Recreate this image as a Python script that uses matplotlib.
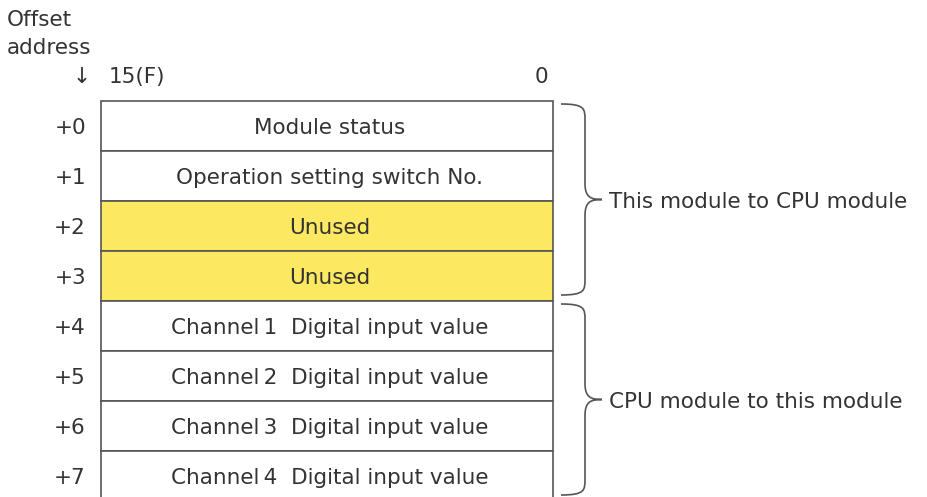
import matplotlib.pyplot as plt
from matplotlib.path import Path
from matplotlib.patches import PathPatch

plt.rcParams['font.family'] = ['DejaVu Sans']

# buffer memory layout
offsets = ['+0', '+1', '+2', '+3', '+4', '+5', '+6', '+7']
names = ['Module status',
         'Operation setting switch No.',
         'Unused',
         'Unused',
         'Channel\u20091  Digital input value',
         'Channel\u20092  Digital input value',
         'Channel\u20093  Digital input value',
         'Channel\u20094  Digital input value']
unused = [False, False, True, True, False, False, False, False]
groups = [('This module to CPU module', 0, 4), ('CPU module to this module', 4, 8)]

TXT = '#333333'
EDGE = '#555555'
YELLOW = '#fce961'
FS = 15.5

LEFT, RIGHT = 101, 553
TOP, ROW_H = 101, 50

fig = plt.figure(figsize=(9.28, 4.97), dpi=100)
ax = fig.add_axes([0, 0, 1, 1])
ax.set_xlim(0, 928)
ax.set_ylim(497, 0)
ax.axis('off')

ys = [TOP + ROW_H * (i + 0.5) for i in range(len(names))]
colors = [YELLOW if u else 'white' for u in unused]
ax.barh(ys, RIGHT - LEFT, left=LEFT, height=ROW_H, color=colors,
        edgecolor=EDGE, linewidth=1.2, zorder=2)

for y, off, name in zip(ys, offsets, names):
    ax.text(86, y + 2, off, ha='right', va='center', fontsize=FS, color=TXT)
    ax.text((LEFT + RIGHT) / 2 + 3, y + 2, name, ha='center', va='center', fontsize=FS, color=TXT, zorder=3)

# header
ax.text(7, 20, 'Offset', ha='left', va='center', fontsize=FS, color=TXT)
ax.text(7, 48, 'address', ha='left', va='center', fontsize=FS, color=TXT)
ax.text(82, 77, '↓', ha='center', va='center', fontsize=FS, color=TXT)
ax.text(109, 77, '15(F)', ha='left', va='center', fontsize=FS, color=TXT)
ax.text(541, 77, '0', ha='center', va='center', fontsize=FS, color=TXT)


def brace(y0, y1, x0=561, xm=585, xt=602, r=16):
    ym = (y0 + y1) / 2
    verts = [(x0, y0),
             (xm, y0), (xm, y0 + r * 0.3), (xm, y0 + r),
             (xm, ym - r),
             (xm, ym - 2), (xm + 6, ym), (xt, ym),
             (xm + 6, ym), (xm, ym + 2), (xm, ym + r),
             (xm, y1 - r),
             (xm, y1 - r * 0.3), (xm, y1), (x0, y1)]
    codes = [Path.MOVETO,
             Path.CURVE4, Path.CURVE4, Path.CURVE4,
             Path.LINETO,
             Path.CURVE4, Path.CURVE4, Path.CURVE4,
             Path.CURVE4, Path.CURVE4, Path.CURVE4,
             Path.LINETO,
             Path.CURVE4, Path.CURVE4, Path.CURVE4]
    ax.add_patch(PathPatch(Path(verts, codes), fill=False, edgecolor=EDGE, lw=1.2))
    return ym


for label, a, b in groups:
    y0 = TOP + ROW_H * a + 3
    y1 = TOP + ROW_H * b - 6
    ym = brace(y0, y1)
    ax.text(609, ym + 2, label, ha='left', va='center', fontsize=FS, color=TXT)

fig.savefig('out.png', dpi=100)
